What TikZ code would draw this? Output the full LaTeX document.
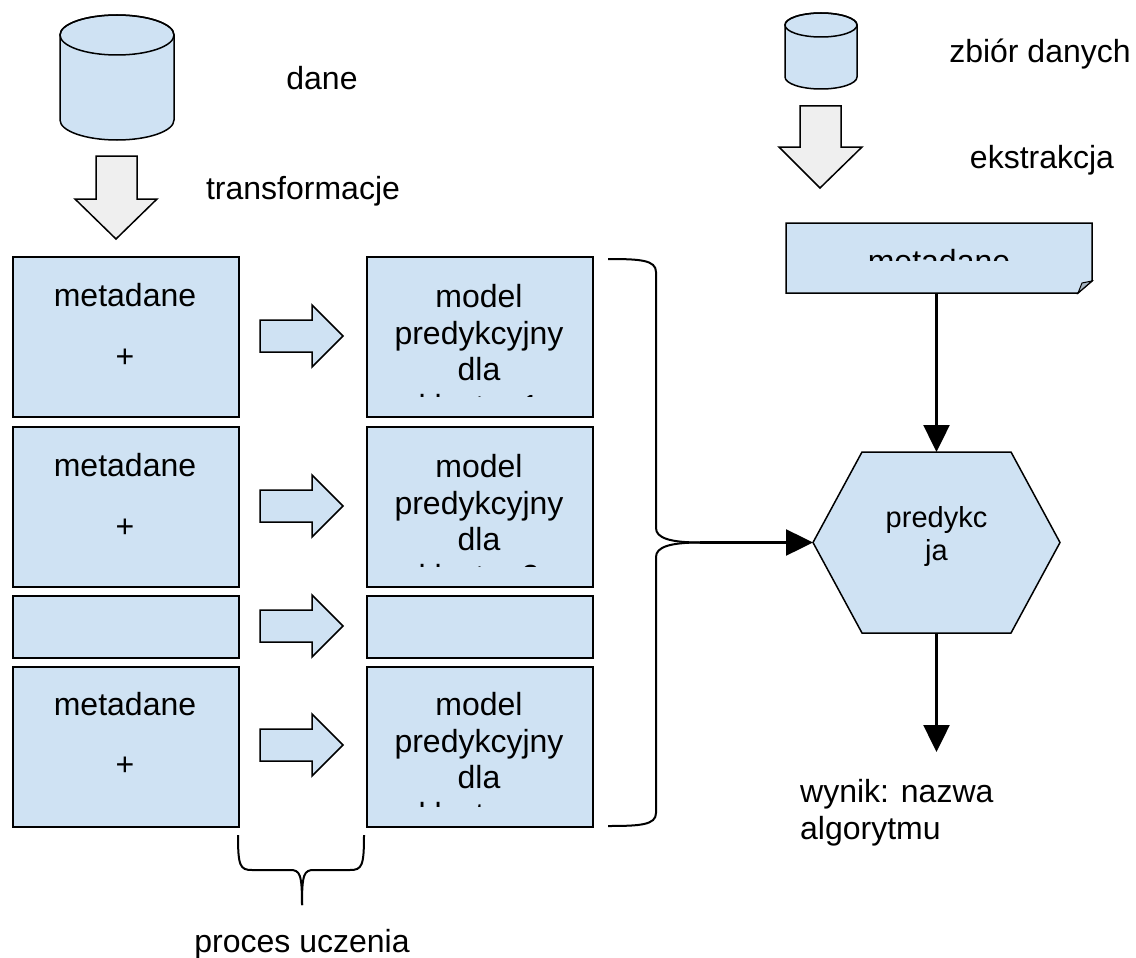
\documentclass[tikz,border=0pt]{standalone}
\usepackage{fontspec}
\setmainfont{Liberation Sans}
\usetikzlibrary{arrows.meta}

\definecolor{boxblue}{HTML}{CFE2F3}
\definecolor{foldblue}{HTML}{A6B5C2}
\definecolor{arrowgray}{HTML}{EFEFEF}

\begin{document}
\begin{tikzpicture}[x=1pt,y=-1pt,
    blk/.style={draw,line width=2pt,fill=boxblue,minimum width=226,anchor=north west,inner sep=0},
    txt/.style={font=\fontsize{32}{36.7}\selectfont,inner sep=0,align=center},
    bigarrow/.style={draw,line width=1.5pt,fill=arrowgray},
    smallarrow/.style={draw,line width=1.5pt,fill=boxblue},
    conn/.style={line width=2.5pt,-{Triangle[length=27pt,width=26pt]}},
    brace/.style={line width=2pt}]
    \useasboundingbox (0,0) rectangle (1136,958);

    % bazy danych
    \draw[line width=1.5pt,fill=boxblue] (60,35) -- (60,120) arc[start angle=180,end angle=0,x radius=57,y radius=20] -- (174,35) arc[start angle=0,end angle=-180,x radius=57,y radius=20] -- cycle;
    \draw[line width=1.5pt] (117,35) ellipse[x radius=57,y radius=20];
    \draw[line width=1.5pt,fill=boxblue] (785,25) -- (785,77) arc[start angle=180,end angle=0,x radius=36,y radius=12] -- (857,25) arc[start angle=0,end angle=-180,x radius=36,y radius=12] -- cycle;
    \draw[line width=1.5pt] (821,25) ellipse[x radius=36,y radius=12];

    % duze strzalki w dol
    \draw[bigarrow] (96,156) -- (137,156) -- (137,199) -- (157,199) -- (116,239) -- (75,199) -- (96,199) -- cycle;
    \draw[bigarrow] (800,106) -- (841,106) -- (841,147) -- (862,147) -- (820,188) -- (779,147) -- (800,147) -- cycle;

    \node[txt,anchor=base] (dane) at (322,90) {dane};
    \node[txt,anchor=base] (transf) at (303,199) {transformacje};
    \node[txt,anchor=base] (zbior) at (1040,63) {zbiór danych};
    \node[txt,anchor=base] (ekstr) at (1042,168) {ekstrakcja};

    % metadane
    \node[blk,minimum height=160] (meta1) at (12,256) {};
    \node[blk,minimum height=160] (meta2) at (12,426) {};
    \node[blk,minimum height=62] (meta3) at (12,595) {};
    \node[blk,minimum height=160] (meta4) at (12,666) {};
    \node[txt,anchor=base] (meta1a) at (125,306) {metadane};
    \node[txt,anchor=base] (meta1b) at (125,367) {+};
    \node[txt,anchor=base] (meta2a) at (125,476) {metadane};
    \node[txt,anchor=base] (meta2b) at (125,537) {+};
    \node[txt,anchor=base] (meta4a) at (125,715) {metadane};
    \node[txt,anchor=base] (meta4b) at (125,775) {+};

    \draw[smallarrow] (260,320) -- ++(52,0) -- ++(0,-15) -- ++(31,31) -- ++(-31,31) -- ++(0,-15) -- ++(-52,0) -- cycle;
    \draw[smallarrow] (260,490) -- ++(52,0) -- ++(0,-15) -- ++(31,31) -- ++(-31,31) -- ++(0,-15) -- ++(-52,0) -- cycle;
    \draw[smallarrow] (260,610) -- ++(52,0) -- ++(0,-15) -- ++(31,31) -- ++(-31,31) -- ++(0,-15) -- ++(-52,0) -- cycle;
    \draw[smallarrow] (260,729) -- ++(52,0) -- ++(0,-15) -- ++(31,31) -- ++(-31,31) -- ++(0,-15) -- ++(-52,0) -- cycle;

    % modele
    \node[blk,minimum height=160] (model1) at (366,256) {};
    \node[blk,minimum height=160] (model2) at (366,426) {};
    \node[blk,minimum height=62] (model3) at (366,595) {};
    \node[blk,minimum height=160] (model4) at (366,666) {};
    \begin{scope}
        \clip (model1.north west) rectangle ([yshift=22pt]model1.south east);
        \node[txt,anchor=north] (model1txt) at (479,284) {model\\predykcyjny\\dla\\klastra 1};
    \end{scope}
    \begin{scope}
        \clip (model2.north west) rectangle ([yshift=22pt]model2.south east);
        \node[txt,anchor=north] (model2txt) at (479,454) {model\\predykcyjny\\dla\\klastra 2};
    \end{scope}
    \begin{scope}
        \clip (model4.north west) rectangle ([yshift=22pt]model4.south east);
        \node[txt,anchor=north] (model4txt) at (479,692) {model\\predykcyjny\\dla\\klastra n};
    \end{scope}

    % klamry
    \draw[brace] (608,259) .. controls (640,259) and (656,260) .. (656,272) -- (656,528) .. controls (656,538) and (670,542.5) .. (700,542.5);
    \draw[brace] (608,826) .. controls (640,826) and (656,825) .. (656,813) -- (656,557) .. controls (656,547) and (670,542.5) .. (700,542.5);
    \coordinate (braceTip) at (700,542.5);

    \draw[brace] (238,835) .. controls (238,866) and (240,870) .. (252,870) -- (290,870) .. controls (300,870) and (302,874) .. (302,905);
    \draw[brace] (364,835) .. controls (364,866) and (362,870) .. (350,870) -- (314,870) .. controls (304,870) and (302,874) .. (302,905);
    \node[txt,anchor=base] (proces) at (302,952) {proces uczenia};

    % metadane zbioru
    \node[minimum width=306,minimum height=70,inner sep=0,outer sep=0,anchor=north west] (doc) at (786,223) {};
    \draw[line width=1.5pt,fill=boxblue] (doc.north west) -- (doc.north east) -- ([yshift=12pt]doc.south east) -- ([xshift=-14pt]doc.south east) -- (doc.south west) -- cycle;
    \draw[line width=1pt,fill=foldblue] ([yshift=12pt]doc.south east) -- ([xshift=-10pt,yshift=10pt]doc.south east) -- ([xshift=-14pt]doc.south east) -- cycle;
    \begin{scope}
        \clip (doc.north west) rectangle ([yshift=-37pt]doc.north east);
        \node[txt,anchor=base] (doctxt) at (939,272) {metadane};
    \end{scope}

    % predykcja
    \node[minimum width=247,minimum height=181,inner sep=0,outer sep=0] (pred) at (936.5,542.5) {};
    \draw[line width=1.5pt,fill=boxblue] (pred.west) -- ([xshift=49pt]pred.north west) -- ([xshift=-49pt]pred.north east) -- (pred.east) -- ([xshift=-49pt]pred.south east) -- ([xshift=49pt]pred.south west) -- cycle;
    \node[font=\fontsize{29}{33}\selectfont,align=center,inner sep=0,anchor=north] (predtxt) at (936.5,506) {predykc\\ja};

    \draw[conn] (pred.north |- doc.south) -- (pred.north);
    \draw[conn] (braceTip) -- (pred.west);
    \coordinate (out) at (936.5,752);
    \draw[conn] (pred.south) -- (out);

    \node[txt,align=left,anchor=north west] (wynik) at (800,779) {wynik: nazwa\\algorytmu};
\end{tikzpicture}
\end{document}
